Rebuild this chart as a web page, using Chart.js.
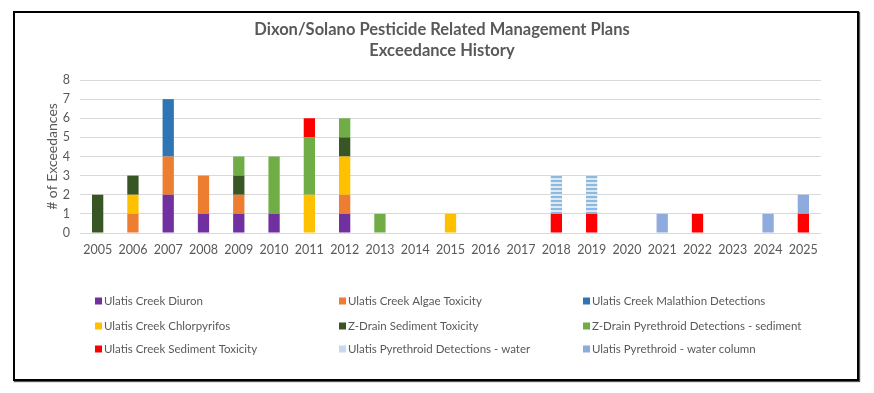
<!DOCTYPE html>
<html><head><meta charset="utf-8">
<script src="https://cdn.jsdelivr.net/npm/chart.js@4"></script>
<style>
html,body{margin:0;padding:0;background:#fff;}
#wrap{position:relative;width:874px;height:393px;}
#frame{position:absolute;left:13px;top:11px;width:846px;height:370px;border:2px solid #000;box-sizing:border-box;pointer-events:none;box-shadow:1px 1px 1px #555;}
</style></head><body>
<div id="wrap"><canvas id="c" width="874" height="393"></canvas><div id="frame"></div></div>
<script>
const years = ['2005','2006','2007','2008','2009','2010','2011','2012','2013','2014','2015','2016','2017','2018','2019','2020','2021','2022','2023','2024','2025'];
const yTicks = [0,1,2,3,4,5,6,7,8];
const titleLines = ['Dixon/Solano Pesticide Related Management Plans','Exceedance History'];
const yTitle = '# of Exceedances';
const seriesNames = ['Ulatis Creek Diuron','Ulatis Creek Algae Toxicity','Ulatis Creek Malathion Detections','Ulatis Creek Chlorpyrifos','Z-Drain Sediment Toxicity','Z-Drain Pyrethroid Detections - sediment','Ulatis Creek Sediment Toxicity','Ulatis Pyrethroid Detections - water','Ulatis Pyrethroid - water column'];
//                 05 06 07 08 09 10 11 12 13 14 15 16 17 18 19 20 21 22 23 24 25
const diuron      = [0, 0, 2, 1, 1, 1, 0, 1, 0, 0, 0, 0, 0, 0, 0, 0, 0, 0, 0, 0, 0];
const algae       = [0, 1, 2, 2, 1, 0, 0, 1, 0, 0, 0, 0, 0, 0, 0, 0, 0, 0, 0, 0, 0];
const malathion   = [0, 0, 3, 0, 0, 0, 0, 0, 0, 0, 0, 0, 0, 0, 0, 0, 0, 0, 0, 0, 0];
const chlorpyrifos= [0, 1, 0, 0, 0, 0, 2, 2, 0, 0, 1, 0, 0, 0, 0, 0, 0, 0, 0, 0, 0];
const zdrainSed   = [2, 1, 0, 0, 1, 0, 0, 1, 0, 0, 0, 0, 0, 0, 0, 0, 0, 0, 0, 0, 0];
const zdrainPyr   = [0, 0, 0, 0, 1, 3, 3, 1, 1, 0, 0, 0, 0, 0, 0, 0, 0, 0, 0, 0, 0];
const sedTox      = [0, 0, 0, 0, 0, 0, 1, 0, 0, 0, 0, 0, 0, 1, 1, 0, 0, 1, 0, 0, 1];
const pyrWater    = [0, 0, 0, 0, 0, 0, 0, 0, 0, 0, 0, 0, 0, 2, 2, 0, 0, 0, 0, 0, 0];
const pyrWaterCol = [0, 0, 0, 0, 0, 0, 0, 0, 0, 0, 0, 0, 0, 0, 0, 0, 1, 0, 0, 1, 1];
const seriesValues = [diuron, algae, malathion, chlorpyrifos, zdrainSed, zdrainPyr, sedTox, pyrWater, pyrWaterCol];

const colors = ['#7030a0','#ed7d31','#2e75b6','#ffc000','#375623','#70ad47','#ff0000',null,'#8faadc'];
const legendColors = ['#7030a0','#ed7d31','#2e75b6','#ffc000','#375623','#70ad47','#ff0000','#c6d9ee','#8faadc'];

// striped pattern for water series
const pc = document.createElement('canvas'); pc.width = 4; pc.height = 4;
const pctx = pc.getContext('2d');
pctx.fillStyle = '#dbe8f5'; pctx.fillRect(0,0,4,4);
pctx.fillStyle = '#8fb8dd'; pctx.fillRect(0,0,4,2);
const stripe = pctx.createPattern(pc,'repeat');

const textColor = '#595959';
const FONT = 'Lato, "Liberation Sans", sans-serif';

const datasets = seriesNames.map((n,i)=>({
  label:n, data:seriesValues[i],
  backgroundColor: colors[i] || stripe,
  borderWidth:0,
  barPercentage:0.32, categoryPercentage:1.0
}));

const titlePlugin = {
  id:'titleLines',
  afterDraw(chart){
    const ctx = chart.ctx;
    ctx.save();
    ctx.fillStyle = textColor;
    ctx.font = 'bold 16.5px ' + FONT;
    ctx.textAlign = 'center'; ctx.textBaseline = 'middle';
    ctx.fillText(titleLines[0], 442, 30);
    ctx.fillText(titleLines[1], 442, 51);
    ctx.restore();
  }
};
const legendPlugin = {
  id:'gridLegend',
  afterDraw(chart){
    const ctx = chart.ctx;
    const colX = [95, 339, 583];
    const rowY = [301, 326, 349];
    ctx.save();
    ctx.font = '11.5px ' + FONT;
    ctx.textBaseline = 'middle'; ctx.textAlign = 'left';
    chart.data.datasets.forEach((ds,i)=>{
      const r = Math.floor(i/3), c = i%3;
      const x = colX[c], y = rowY[r];
      ctx.fillStyle = legendColors[i];
      ctx.fillRect(x, y-3.5, 7, 7);
      ctx.fillStyle = textColor;
      ctx.fillText(ds.label, x+9, y);
    });
    ctx.restore();
  }
};

new Chart(document.getElementById('c'), {
  type:'bar',
  data:{labels:years, datasets},
  options:{
    responsive:false, animation:false,
    layout:{padding:{left:44, right:53, top:80, bottom:129}},
    plugins:{legend:{display:false}, title:{display:false}, tooltip:{enabled:false}},
    scales:{
      x:{stacked:true,
         grid:{display:false, drawTicks:false},
         border:{display:false},
         ticks:{color:textColor, font:{family:FONT, size:12.5}, padding:9, maxRotation:0, autoSkip:false},
         afterFit(s){ s.height = 31; }
      },
      y:{stacked:true, min:0, max:8,
         afterBuildTicks(s){ s.ticks = yTicks.map(v=>({value:v})); },
         grid:{color:'#d9d9d9', lineWidth:1, drawTicks:false},
         border:{display:false},
         ticks:{color:textColor, font:{family:FONT, size:12.5}, padding:10},
         title:{display:true, text:yTitle, color:textColor, font:{family:FONT, size:14}, padding:{top:0,bottom:0}},
         afterFit(s){ s.width = 36; }
      }
    }
  },
  plugins:[titlePlugin, legendPlugin]
});
</script>
</body></html>
